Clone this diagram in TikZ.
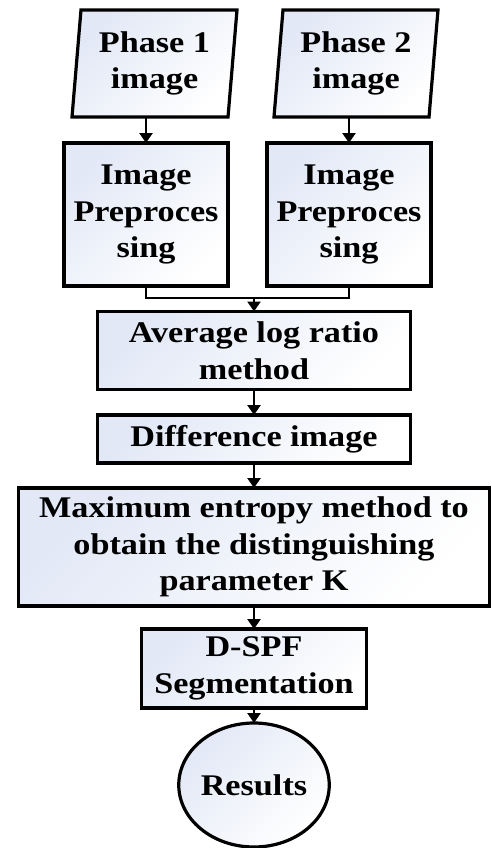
\documentclass[tikz,border=0pt]{standalone}
\usepackage{fontspec}
\setmainfont{Liberation Serif}
\newfontfamily\boxfont[FakeStretch=1.14]{Liberation Serif}
\usetikzlibrary{arrows.meta,shapes.geometric}
\definecolor{shadeblue}{RGB}{226,232,246}
\tikzset{
  base/.style={draw=black, line width=3.2pt, top color=shadeblue, bottom color=white,
    shading angle=45, font=\boxfont\bfseries\fontsize{30}{36.5}\selectfont, align=center,
    inner sep=0pt, outer sep=0pt},
  procbox/.style={base, rectangle},
  iobox/.style={base, trapezium, trapezium left angle=82, trapezium right angle=98,
    trapezium stretches body},
  endbox/.style={base, ellipse},
  flow/.style={line width=2.6pt, -{Triangle[width=13pt,length=10pt]}},
  mergeline/.style={line width=2.6pt}
}
\begin{document}
\begin{tikzpicture}[x=1pt,y=-1pt]
\useasboundingbox (0,0) rectangle (491,848);
\node[iobox, minimum width=165, minimum height=107] (p1) at (154.5,63.5) {Phase 1\\image};
\node[iobox, minimum width=164, minimum height=107] (p2) at (356,63.5) {Phase 2\\image};
\node[procbox, minimum width=164, minimum height=143] (pre1) at (146,214.5) {Image\\Preproces\\sing};
\node[procbox, minimum width=164, minimum height=143] (pre2) at (349,214.5) {Image\\Preproces\\sing};
\node[procbox, minimum width=313, minimum height=78] (alr) at (254,350.5) {Average log ratio\\method};
\node[procbox, minimum width=313, minimum height=48] (diff) at (254,439) {Difference image};
\node[procbox, minimum width=471, minimum height=118] (maxent) at (254,547) {Maximum entropy method to\\obtain the distinguishing\\parameter K};
\node[procbox, minimum width=225, minimum height=79] (dspf) at (254,668.5) {D-SPF\\Segmentation};
\node[endbox, minimum width=139, minimum height=124] (res) at (254,785) {Results};
\draw[flow] (p1.south -| pre1.north) -- (pre1.north);
\draw[flow] (p2.south -| pre2.north) -- (pre2.north);
\draw[mergeline] (pre1.south) -- ++(0,12) -| (pre2.south);
\coordinate (mj) at (254,298);
\draw[flow] (mj) -- (alr.north);
\draw[flow] (alr.south) -- (diff.north);
\draw[flow] (diff.south) -- (maxent.north);
\draw[flow] (maxent.south) -- (dspf.north);
\draw[flow] (dspf.south) -- (res.north);
\end{tikzpicture}
\end{document}
